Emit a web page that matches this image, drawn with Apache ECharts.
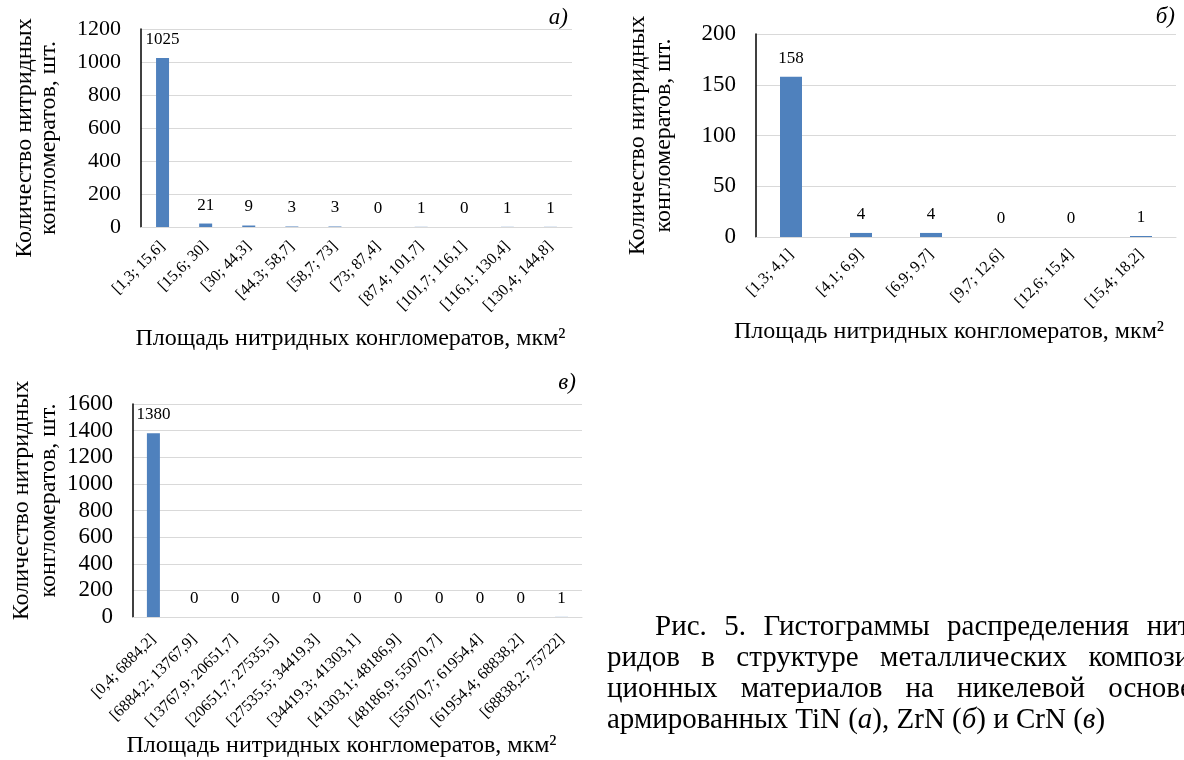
<!DOCTYPE html>
<html><head><meta charset="utf-8">
<script src="https://cdn.jsdelivr.net/npm/echarts@6/dist/echarts.min.js"></script>
<style>html,body{margin:0;padding:0;background:#fff}#c{width:1184px;height:760px}</style>
</head><body><div id="c"></div>
<script>
// ---- data ----
const catsA = ['[1,3; 15,6]','[15,6; 30]','[30; 44,3]','[44,3; 58,7]','[58,7; 73]','[73; 87,4]','[87,4; 101,7]','[101,7; 116,1]','[116,1; 130,4]','[130,4; 144,8]'];
const valsA = [1025,21,9,3,3,0,1,0,1,1];
const catsB = ['[1,3; 4,1]','[4,1; 6,9]','[6,9; 9,7]','[9,7; 12,6]','[12,6; 15,4]','[15,4; 18,2]'];
const valsB = [158,4,4,0,0,1];
const catsC = ['[0,4; 6884,2]','[6884,2; 13767,9]','[13767,9; 20651,7]','[20651,7; 27535,5]','[27535,5; 34419,3]','[34419,3; 41303,1]','[41303,1; 48186,9]','[48186,9; 55070,7]','[55070,7; 61954,4]','[61954,4; 68838,2]','[68838,2; 75722]'];
const valsC = [1380,0,0,0,0,0,0,0,0,0,1];
const yMaxA = 1200, yStepA = 200;
const yMaxB = 200, yStepB = 50;
const yMaxC = 1600, yStepC = 200;
const yName = 'Количество нитридных\nконгломератов, шт.';
const xName = 'Площадь нитридных конгломератов, мкм²';
const panelTags = ['а)', 'б)', 'в)'];
const captionLines = [
  ['Рис.', '5.', 'Гистограммы', 'распределения', 'нит-'],
  ['ридов', 'в', 'структуре', 'металлических', 'компози-'],
  ['ционных', 'материалов', 'на', 'никелевой', 'основе,']
];

// ---- chart ----
const FF = '"Liberation Serif", "Times New Roman", serif';
const BLUE = '#4f81bd';
const GRIDC = '#d9d9d9';

function mkX(idx, cats, gap, margin, pad) {
  return {
    type: 'category', gridIndex: idx, data: cats,
    axisLine: {show: true, lineStyle: {color: GRIDC, width: 1}},
    axisTick: {show: false},
    axisLabel: {interval: 0, rotate: 45, fontSize: 16, margin: margin, color: '#000', fontFamily: FF},
    name: xName, nameLocation: 'middle', nameGap: gap,
    nameTextStyle: {fontSize: 24, color: '#000', fontFamily: FF, padding: pad}
  };
}
function mkY(idx, max, step, fs, gap, lh, pad) {
  return {
    type: 'value', gridIndex: idx, min: 0, max: max, interval: step,
    axisLine: {show: true, lineStyle: {color: '#000', width: 1.5}},
    axisTick: {show: false},
    splitLine: {show: true, lineStyle: {color: GRIDC, width: 1}},
    axisLabel: {fontSize: fs, margin: 20, color: '#000', fontFamily: FF, formatter: v => String(v)},
    name: yName, nameLocation: 'middle', nameRotate: 90, nameGap: gap,
    nameTextStyle: {fontSize: 24, lineHeight: lh, color: '#000', fontFamily: FF, padding: pad}
  };
}
function mkS(idx, vals, bw) {
  return {
    type: 'bar', xAxisIndex: idx, yAxisIndex: idx, data: vals, barWidth: bw,
    itemStyle: {color: BLUE},
    label: {show: true, position: 'top', distance: 10, fontSize: 17, color: '#000', fontFamily: FF}
  };
}

// caption justified words
const ctx = document.createElement('canvas').getContext('2d');
const CFS = 29;
ctx.font = CFS + 'px "Liberation Serif"';
const capLeft = [655, 607, 607];
const capRight = 1200;
const capY = [627, 658, 689, 720];
const graphics = [];
captionLines.forEach((words, li) => {
  const ws = words.map(w => ctx.measureText(w).width);
  const tot = ws.reduce((a, b) => a + b, 0);
  const gapW = (capRight - capLeft[li] - tot) / (words.length - 1);
  let x = capLeft[li];
  words.forEach((w, wi) => {
    graphics.push({type: 'text', x: x, y: capY[li], style: {text: w, font: CFS + 'px "Liberation Serif"', fill: '#000', textVerticalAlign: 'middle'}});
    x += ws[wi] + gapW;
  });
});
graphics.push({type: 'text', x: 607, y: capY[3], style: {
  text: '{n|армированных TiN (}{i|а}{n|), ZrN (}{i|б}{n|) и CrN (}{i|в}{n|)}',
  rich: {n: {fontSize: CFS, fontFamily: FF, fill: '#000'}, i: {fontSize: CFS, fontFamily: FF, fontStyle: 'italic', fill: '#000'}},
  textVerticalAlign: 'middle'
}});
const tagPos = [[568, 18], [1175, 17], [576, 383]];
panelTags.forEach((t, i) => {
  graphics.push({type: 'text', x: tagPos[i][0], y: tagPos[i][1], style: {text: t, font: 'italic 23px "Liberation Serif"', fill: '#000', textAlign: 'right', textVerticalAlign: 'middle'}});
});

const option = {
  animation: false,
  textStyle: {fontFamily: FF},
  grid: [
    {left: 141, top: 29, width: 431, height: 198, containLabel: false, outerBoundsMode: 'none'},
    {left: 756, top: 34, width: 420, height: 203, containLabel: false, outerBoundsMode: 'none'},
    {left: 133, top: 404, width: 449, height: 213, containLabel: false, outerBoundsMode: 'none'}
  ],
  xAxis: [mkX(0, catsA, 100, 17, [0, 12, 0, 0]), mkX(1, catsB, 83, 15, [0, 34, 0, 0]), mkX(2, catsC, 117, 20, [0, 32, 0, 0])],
  yAxis: [mkY(0, yMaxA, yStepA, 22, 80, 24, [0, 20, 0, 0]), mkY(1, yMaxB, yStepB, 23, 79, 26, 0), mkY(2, yMaxC, yStepC, 23, 71, 27, [0, 0, 0, 20])],
  series: [mkS(0, valsA, 13), mkS(1, valsB, 22), mkS(2, valsC, 13)],
  graphic: graphics
};
const chart = echarts.init(document.getElementById('c'), null, {renderer: 'canvas'});
chart.setOption(option);
</script>
</body></html>
